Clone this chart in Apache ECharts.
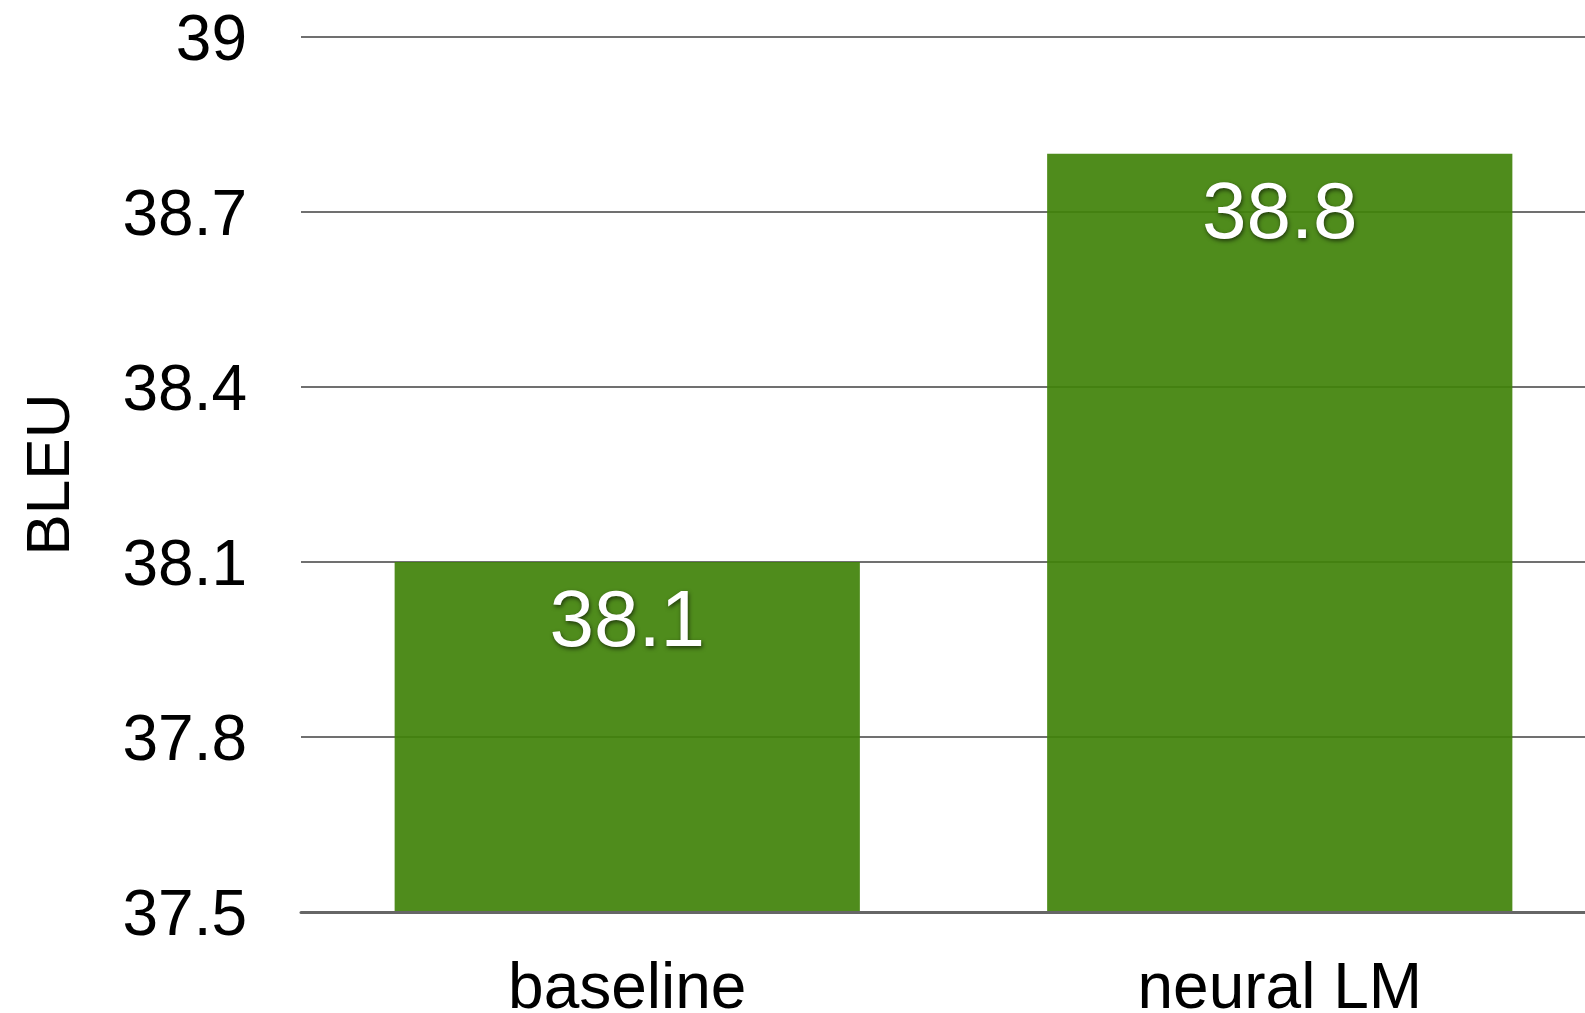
<!DOCTYPE html>
<html>
<head>
<meta charset="utf-8">
<script src="https://cdn.jsdelivr.net/npm/echarts@6/dist/echarts.min.js"></script>
<style>
  html, body { margin: 0; padding: 0; background: #fff; }
  #chart { width: 1585px; height: 1013px; }
</style>
</head>
<body>
<div id="chart"></div>
<script>
// BLEU scores by system
const categories = ['baseline', 'neural LM'];
const bleuScores = [38.1, 38.8];
const yTicks = [37.5, 37.8, 38.1, 38.4, 38.7, 39];

const FONT = '"Liberation Sans", Arial, Helvetica, sans-serif';

const chart = echarts.init(document.getElementById('chart'), null, { renderer: 'canvas' });

chart.setOption({
  animation: false,
  backgroundColor: '#ffffff',
  // the plot runs past the right edge of the canvas
  grid: {
    left: 301, width: 1305, top: 37, bottom: 101,
    containLabel: false,
    outerBoundsMode: 'none'
  },
  xAxis: {
    type: 'category',
    data: categories,
    z: 5,
    axisLine: { show: true, lineStyle: { color: '#666666', width: 3 } },
    axisTick: { show: false },
    axisLabel: { color: '#000', fontFamily: FONT, fontSize: 64, margin: 46 }
  },
  yAxis: {
    type: 'value',
    min: yTicks[0],
    max: yTicks[yTicks.length - 1],
    interval: 0.3,
    name: 'BLEU',
    nameLocation: 'middle',
    nameGap: 218,
    nameRotate: 90,
    nameTextStyle: { color: '#000', fontFamily: FONT, fontSize: 62 },
    axisLine: { show: false },
    axisTick: { show: false },
    axisLabel: {
      color: '#000', fontFamily: FONT, fontSize: 64, margin: 54,
      formatter: function (v) {
        // snap to the nearest listed tick so labels read cleanly
        let best = yTicks[0];
        for (const t of yTicks) if (Math.abs(t - v) < Math.abs(best - v)) best = t;
        return '{v|' + best + '}';
      },
      rich: {
        v: { color: '#000', fontFamily: FONT, fontSize: 64, padding: [10, 0, 0, 0] }
      }
    },
    splitLine: { show: true, lineStyle: { color: '#707070', width: 2 } }
  },
  series: [{
    type: 'bar',
    data: bleuScores,
    barCategoryGap: '28.7%',
    itemStyle: { color: 'rgba(64,130,9,0.92)' },
    label: {
      show: true,
      position: 'insideTop',
      distance: 22,
      color: '#ffffff',
      fontFamily: FONT,
      fontSize: 80,
      textShadowColor: 'rgba(0,0,0,0.6)',
      textShadowBlur: 4,
      textShadowOffsetX: 1,
      textShadowOffsetY: 2,
      formatter: function (p) { return p.value.toFixed(1); }
    }
  }]
});
</script>
</body>
</html>
